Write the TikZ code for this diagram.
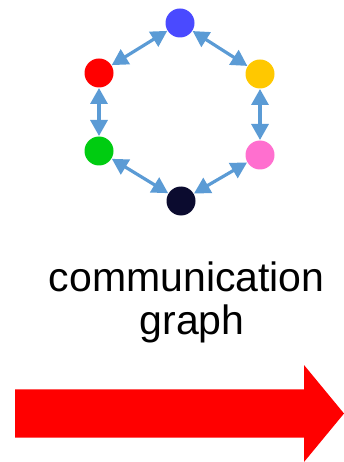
\documentclass[tikz,border=0pt]{standalone}
\usepackage{fontspec}
\setmainfont{Liberation Sans}
\usetikzlibrary{arrows.meta}
\definecolor{cblue}{HTML}{4A4AFF}
\definecolor{cred}{HTML}{FF0000}
\definecolor{cyellow}{HTML}{FFC800}
\definecolor{cgreen}{HTML}{00CC11}
\definecolor{cpink}{HTML}{FF6FCF}
\definecolor{cdark}{HTML}{0B0B2F}
\definecolor{link}{HTML}{5B9BD5}
\begin{document}
\begin{tikzpicture}[x=1pt,y=-1pt,
  agent/.style={circle,minimum size=29pt,inner sep=0pt,draw=none},
  comm/.style={draw=link,line width=3.2pt,
    {Triangle[length=16pt,width=17pt]}-{Triangle[length=16pt,width=17pt]},
    shorten <=0.3pt,shorten >=0.3pt},
  lbl/.style={font=\fontsize{41pt}{42.6pt}\selectfont,inner sep=0pt,anchor=base}]
\useasboundingbox (0,0) rectangle (344,462);
\node[agent,fill=cblue]   (b) at (180,23) {};
\node[agent,fill=cred]    (r) at (99,73) {};
\node[agent,fill=cyellow] (y) at (260,74) {};
\node[agent,fill=cgreen]  (g) at (99,151) {};
\node[agent,fill=cpink]   (p) at (260,155) {};
\node[agent,fill=cdark]   (k) at (181,201) {};
\draw[comm] (b) -- (r);
\draw[comm] (b) -- (y);
\draw[comm] (r) -- (g);
\draw[comm] (y) -- (p);
\draw[comm] (g) -- (k);
\draw[comm] (p) -- (k);
\node[lbl] (t1) at (186.7,291.7) {communication};
\node[lbl] (t2) at (192,334.3) {graph};
\fill[cred] (15,389.3) -- (304,389.3) -- (304,365) -- (344,413.5) -- (304,462) -- (304,437.7) -- (15,437.7) -- cycle;
\end{tikzpicture}
\end{document}
